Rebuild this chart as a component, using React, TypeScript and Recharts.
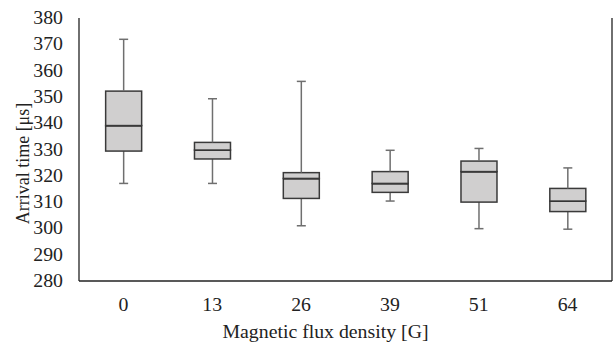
import { ComposedChart, Bar, XAxis, YAxis } from "recharts"

const categories = ["0", "13", "26", "39", "51", "64"]
const mins = [317.1, 317.1, 301.0, 310.4, 299.9, 299.7]
const q1s = [329.4, 326.4, 311.4, 313.7, 310.0, 306.4]
const medians = [339.1, 329.8, 319.0, 317.1, 321.6, 310.4]
const q3s = [352.2, 332.7, 321.2, 321.6, 325.6, 315.2]
const maxs = [371.9, 349.3, 355.9, 329.7, 330.4, 323.0]
const yTicks = [280, 290, 300, 310, 320, 330, 340, 350, 360, 370, 380]

// stacked pieces: invisible base, lower whisker, lower box, upper box, upper whisker
const data = categories.map((name, i) => ({
  name,
  base: mins[i],
  lowWhisker: q1s[i] - mins[i],
  lowBox: medians[i] - q1s[i],
  highBox: q3s[i] - medians[i],
  highWhisker: maxs[i] - q3s[i],
}))

const font = "Liberation Serif"
const textColor = "#222"
const whiskerColor = "#6f6f6f"
const boxFill = "#d0cfcf"
const boxStroke = "#3a3a3a"
const capWidth = 9
const stretch = 1.1 // the source text is a bit wider than plain Times

const LowWhisker = (props: any) => {
  const { x, y, width, height } = props
  const cx = x + width / 2
  return (
    <g stroke={whiskerColor} strokeWidth={1.5}>
      <line x1={cx} x2={cx} y1={y} y2={y + height} />
      <line x1={cx - capWidth / 2} x2={cx + capWidth / 2} y1={y + height} y2={y + height} />
    </g>
  )
}

const HighWhisker = (props: any) => {
  const { x, y, width, height } = props
  const cx = x + width / 2
  return (
    <g stroke={whiskerColor} strokeWidth={1.5}>
      <line x1={cx} x2={cx} y1={y} y2={y + height} />
      <line x1={cx - capWidth / 2} x2={cx + capWidth / 2} y1={y} y2={y} />
    </g>
  )
}

const BoxPart = (props: any) => {
  const { x, y, width, height } = props
  return <rect x={x} y={y} width={width} height={height} fill={boxFill} stroke={boxStroke} strokeWidth={1.5} />
}

const LowBox = (props: any) => {
  const { x, y, width } = props
  return (
    <g>
      <BoxPart {...props} />
      <line x1={x} x2={x + width} y1={y} y2={y} stroke="#1a1a1a" strokeWidth={2} />
    </g>
  )
}

const XTick = ({ x, y, payload }: any) => (
  <text
    transform={`translate(${x} ${y + 22}) scale(${stretch} 1)`}
    textAnchor="middle"
    fontFamily={font}
    fontSize={18}
    fill={textColor}
  >
    {payload.value}
  </text>
)

const YTick = ({ x, y, payload }: any) => (
  <text
    transform={`translate(${x} ${y + 6}) scale(${stretch} 1)`}
    textAnchor="end"
    fontFamily={font}
    fontSize={18}
    fill={textColor}
  >
    {payload.value}
  </text>
)

export default function App() {
  return (
    <div style={{ position: "absolute", left: 0, top: 0 }}>
      <ComposedChart
        width={616}
        height={342}
        data={data}
        margin={{ top: 18, right: 0, bottom: 0, left: 0 }}
        barCategoryGap="30%"
      >
        <XAxis
          dataKey="name"
          height={61}
          axisLine={{ stroke: textColor, strokeWidth: 1.3 }}
          tickLine={false}
          tickSize={0}
          tickMargin={8}
          tick={XTick}
          label={({ viewBox }: any) => (
            <text
              transform={`translate(${viewBox.x + viewBox.width / 2 - 20} ${viewBox.y + 57}) scale(${stretch} 1)`}
              textAnchor="middle"
              fontFamily={font}
              fontSize={18}
              fill={textColor}
            >
              Magnetic  flux density [G]
            </text>
          )}
        />
        <XAxis
          xAxisId="top"
          dataKey="name"
          orientation="top"
          height={0}
          tick={false}
          tickLine={false}
          axisLine={{ stroke: textColor, strokeWidth: 1.3 }}
        />
        <YAxis
          width={79}
          domain={[280, 380]}
          ticks={yTicks}
          allowDataOverflow
          axisLine={{ stroke: textColor, strokeWidth: 1.3 }}
          tickLine={false}
          tickSize={0}
          tickMargin={16}
          tick={YTick}
          label={({ viewBox }: any) => {
            const cx = 22
            const cy = viewBox.y + viewBox.height / 2 + 14
            return (
              <text
                transform={`translate(${cx} ${cy}) rotate(-90) scale(1 ${stretch})`}
                textAnchor="middle"
                dominantBaseline="central"
                fontFamily={font}
                fontSize={18}
                fill={textColor}
              >
                Arrival time [μs]
              </text>
            )
          }}
        />
        <YAxis
          yAxisId="right"
          orientation="right"
          width={4}
          domain={[280, 380]}
          tick={false}
          tickLine={false}
          axisLine={{ stroke: textColor, strokeWidth: 1.3 }}
        />
        <Bar dataKey="base" stackId="box" fill="none" shape={() => null} isAnimationActive={false} />
        <Bar dataKey="lowWhisker" stackId="box" shape={LowWhisker} isAnimationActive={false} />
        <Bar dataKey="lowBox" stackId="box" shape={LowBox} isAnimationActive={false} />
        <Bar dataKey="highBox" stackId="box" shape={BoxPart} isAnimationActive={false} />
        <Bar dataKey="highWhisker" stackId="box" shape={HighWhisker} isAnimationActive={false} />
      </ComposedChart>
    </div>
  )
}
